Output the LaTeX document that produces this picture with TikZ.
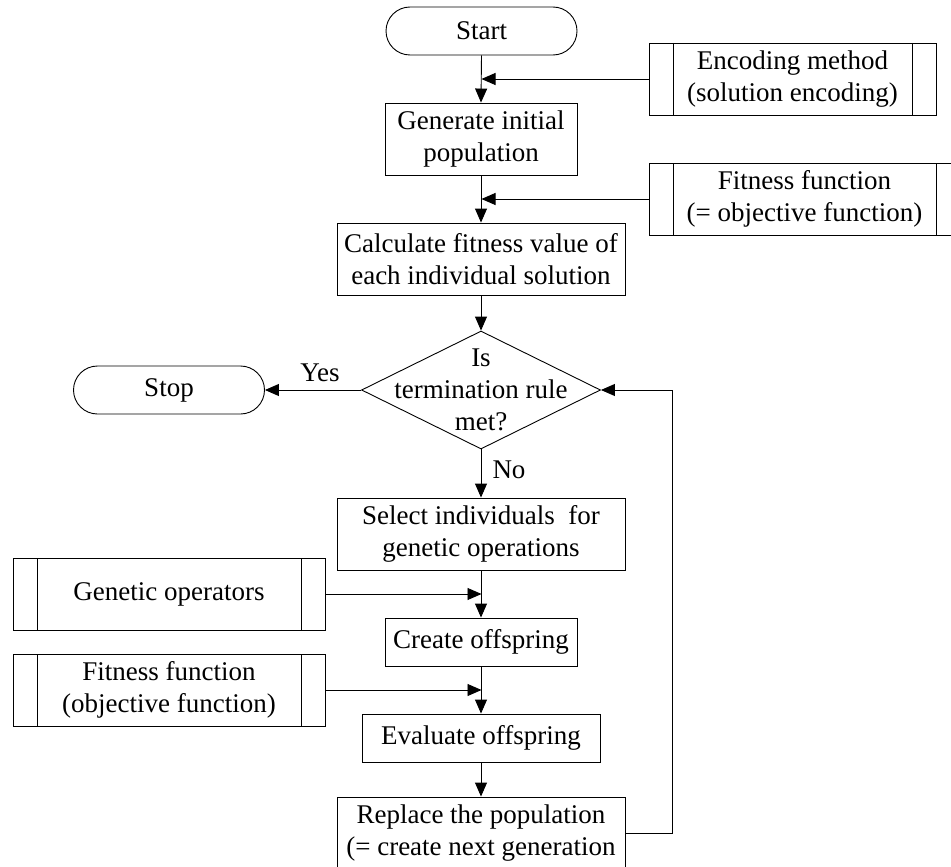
\documentclass[tikz,border=0pt]{standalone}
\usepackage{fontspec}
\setmainfont{Liberation Serif}
\usetikzlibrary{shapes.geometric,arrows.meta}
\begin{document}
\begin{tikzpicture}[x=1pt,y=-1pt,
  every node/.style={inner sep=0pt,font=\fontsize{27}{32}\selectfont,align=center},
  proc/.style={draw,rectangle,line width=0.9pt,minimum height=72pt},
  term/.style={draw,rectangle,rounded corners=24pt,line width=0.9pt,minimum width=191pt,minimum height=48pt},
  predef/.style={draw,rectangle,line width=0.9pt,minimum height=72pt,
    path picture={\draw[line width=0.9pt] ([xshift=24pt]path picture bounding box.north west) -- ([xshift=24pt]path picture bounding box.south west);
                  \draw[line width=0.9pt] ([xshift=-24pt]path picture bounding box.north east) -- ([xshift=-24pt]path picture bounding box.south east);}},
  dec/.style={draw,diamond,line width=0.9pt,minimum width=239pt,minimum height=118pt},
  conn/.style={line width=0.9pt,-{Triangle[length=14pt,width=12pt]}},
  plain/.style={line width=0.9pt}
]
\useasboundingbox (0,0) rectangle (951,867);
\clip (0,0) rectangle (951,867);

% main column
\node[term] (start) at (481.5,31) {Start};
\node[proc,minimum width=192pt] (gen) at (481,139) {Generate initial\\population};
\node[proc,minimum width=288pt] (calc) at (481,259) {Calculate fitness value of\\each individual solution};
\node[dec] (dec) at (481,390) {};
\node (dectext) at (481,390) {Is\\termination rule\\met?};
\node[term] (stop) at (169,390) {Stop};
\node[proc,minimum width=288pt] (sel) at (481,534) {Select individuals~ for\\genetic operations};
\node[proc,minimum width=192pt,minimum height=48pt] (create) at (481,642) {Create offspring};
\node[proc,minimum width=238pt,minimum height=48pt] (eval) at (481,738) {Evaluate offspring};
\node[proc,minimum width=288pt] (repl) at (481,833) {Replace the population\\(= create next generation};

% side boxes
\node[predef,minimum width=287pt] (enc) at (792.5,79) {Encoding method\\(solution encoding)};
\node[predef,minimum width=311pt] (fit1) at (804.5,199) {Fitness function\\(= objective function)};
\node[predef,minimum width=312pt] (genop) at (169,594) {Genetic operators};
\node[predef,minimum width=312pt] (fit2) at (169,690) {Fitness function\\(objective function)};

% labels
\node (yes) at (320,373) {Yes};
\node (no) at (509,470) {No};

% junction points on the main axis
\coordinate (j1) at (start.south |- enc.west);
\coordinate (j2) at (start.south |- fit1.west);
\coordinate (j3) at (start.south |- genop.east);
\coordinate (j4) at (start.south |- fit2.east);
\coordinate (loopA) at (672,833);
\coordinate (loopB) at (672,390);

% connectors
\draw[conn] (start.south) -- (gen.north);
\draw[conn] (gen.south) -- (calc.north);
\draw[conn] (calc.south) -- (dec.north);
\draw[conn] (dec.south) -- (sel.north);
\draw[conn] (sel.south) -- (create.north);
\draw[conn] (create.south) -- (eval.north);
\draw[conn] (eval.south) -- (repl.north);
\draw[conn] (dec.west) -- (stop.east);
\draw[conn] (enc.west) -- (j1);
\draw[conn] (fit1.west) -- (j2);
\draw[conn] (genop.east) -- (j3);
\draw[conn] (fit2.east) -- (j4);
\draw[conn] (repl.east) -- (loopA) -- (loopB) -- (dec.east);
\end{tikzpicture}
\end{document}
